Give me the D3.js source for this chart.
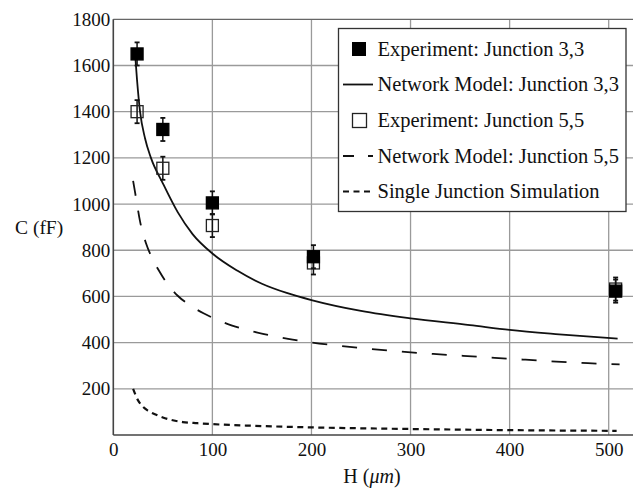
<!DOCTYPE html>
<html><head><meta charset="utf-8"><script src="https://cdn.jsdelivr.net/npm/d3@7"></script></head>
<body style="margin:0">
<svg id="chart" width="633" height="490"></svg>
<script>
// ---- data ----
const xTicks = [0, 100, 200, 300, 400, 500];
const yTicks = [200, 400, 600, 800, 1000, 1200, 1400, 1600, 1800];

const expH = [24, 50, 100, 202, 507];
const exp33 = [1650, 1323, 1005, 772, 623];
const err33 = [50, 50, 50, 50, 50];
const exp55 = [1400, 1155, 907, 745, 632];
const err55 = [50, 50, 50, 50, 50];

const net33H = [22, 24, 27, 32, 38, 50, 65, 80, 100, 125, 150, 175, 200, 250, 300, 360, 400, 450, 509];
const net33C = [1650, 1535, 1400, 1285, 1200, 1090, 965, 870, 786, 712, 655, 615, 584, 537, 505, 476, 455, 436, 417];

const net55H = [20, 23, 27, 33, 39, 46, 55, 65, 78, 91, 105, 120, 136, 151, 166, 181, 198, 229, 259, 291, 323, 353, 385, 416, 447, 479, 511];
const net55C = [1100, 1025, 925, 830, 768, 712, 652, 603, 560, 527, 499, 474, 454, 438, 425, 413, 402, 386, 373, 361, 351, 343, 334, 326, 318, 311, 306];

const singleH = [20, 25, 30, 35, 42, 50, 60, 70, 85, 100, 140, 200, 300, 400, 508];
const singleC = [200, 150, 122, 105, 90, 76, 64, 56, 51, 47, 40, 33, 26, 21, 18];

const legendLabels = [
  "Experiment: Junction 3,3",
  "Network Model: Junction 3,3",
  "Experiment: Junction 5,5",
  "Network Model: Junction 5,5",
  "Single Junction Simulation"
];

// ---- layout ----
const FONT = '"Liberation Serif"';
const svg = d3.select("#chart");
const x = d3.scaleLinear().domain([0, 500]).range([113.3, 608.7]);
const y = d3.scaleLinear().domain([0, 1800]).range([435, 19.3]);
const plotRight = 640;

function txt(sel, size) {
  return sel.attr("font-size", size).attr("font-family", "Liberation Serif")
    .style("font-family", FONT).attr("fill", "#111");
}

// gridlines
const grid = svg.append("g");
grid.selectAll("line.gx").data(xTicks.slice(1)).join("line")
  .attr("x1", d => x(d)).attr("x2", d => x(d))
  .attr("y1", y(1800)).attr("y2", y(0))
  .attr("stroke", "#9a9a9a").attr("stroke-width", 1.3);
grid.selectAll("line.gy").data(yTicks.slice(0, -1)).join("line")
  .attr("x1", x(0)).attr("x2", plotRight)
  .attr("y1", d => y(d)).attr("y2", d => y(d))
  .attr("stroke", "#9a9a9a").attr("stroke-width", 1.3);

// frame: top
svg.append("line").attr("x1", x(0)).attr("x2", plotRight)
  .attr("y1", y(1800)).attr("y2", y(1800))
  .attr("stroke", "#666").attr("stroke-width", 1.3);

// axes (D3 axes, no tick marks)
const xAxis = svg.append("g").attr("transform", `translate(0,${y(0)})`)
  .call(d3.axisBottom(x).tickValues(xTicks).tickFormat(d3.format("d")).tickSize(0).tickPadding(8));
xAxis.attr("font-family", null).attr("font-size", null);
xAxis.select(".domain").remove();
txt(xAxis.selectAll("text"), 19);

const yAxis = svg.append("g").attr("transform", `translate(${x(0)},0)`)
  .call(d3.axisLeft(y).tickValues(yTicks).tickFormat(d3.format("d")).tickSize(0).tickPadding(3));
yAxis.attr("font-family", null).attr("font-size", null);
yAxis.select(".domain").remove();
txt(yAxis.selectAll("text"), 19);

svg.append("line").attr("x1", x(0)).attr("x2", x(0))
  .attr("y1", y(1800)).attr("y2", y(0))
  .attr("stroke", "#444").attr("stroke-width", 1.6);
svg.append("line").attr("x1", x(0)).attr("x2", plotRight)
  .attr("y1", y(0)).attr("y2", y(0))
  .attr("stroke", "#444").attr("stroke-width", 1.6);

// axis titles
txt(svg.append("text").attr("x", 15).attr("y", 234), 19.5).text("C (fF)");
const xt = txt(svg.append("text").attr("x", 372).attr("y", 483).attr("text-anchor", "middle"), 20);
xt.append("tspan").text("H (");
xt.append("tspan").attr("font-style", "italic").text("μm");
xt.append("tspan").text(")");

// curves
const line = d3.line().x(d => x(d[0])).y(d => y(d[1])).curve(d3.curveMonotoneX);
const zip = (a, b) => a.map((v, i) => [v, b[i]]);

svg.append("path").datum(zip(singleH, singleC)).attr("d", line)
  .attr("fill", "none").attr("stroke", "#111").attr("stroke-width", 2.2)
  .attr("stroke-dasharray", "6,4.5");
svg.append("path").datum(zip(net55H, net55C)).attr("d", line)
  .attr("fill", "none").attr("stroke", "#111").attr("stroke-width", 1.8)
  .attr("stroke-dasharray", "15,15");
svg.append("path").datum(zip(net33H, net33C)).attr("d", line)
  .attr("fill", "none").attr("stroke", "#111").attr("stroke-width", 1.8);

// experimental points with error bars
const MS = 12;
function drawPoints(vals, errs, filled) {
  const g = svg.append("g");
  const data = expH.map((h, i) => ({ h, c: vals[i], e: errs[i] }));
  const pts = g.selectAll("g").data(data).join("g");
  pts.append("line")
    .attr("x1", d => x(d.h)).attr("x2", d => x(d.h))
    .attr("y1", d => y(d.c + d.e)).attr("y2", d => y(d.c - d.e))
    .attr("stroke", "#111").attr("stroke-width", 1.5);
  [1, -1].forEach(s => {
    pts.append("line")
      .attr("x1", d => x(d.h) - 2.5).attr("x2", d => x(d.h) + 2.5)
      .attr("y1", d => y(d.c + s * d.e)).attr("y2", d => y(d.c + s * d.e))
      .attr("stroke", "#111").attr("stroke-width", 1.8);
  });
  pts.append("rect")
    .attr("x", d => x(d.h) - MS / 2).attr("y", d => y(d.c) - MS / 2)
    .attr("width", MS).attr("height", MS)
    .attr("fill", filled ? "#000" : "none")
    .attr("stroke", filled ? "#000" : "#222").attr("stroke-width", 1.3);
}
drawPoints(exp55, err55, false);
drawPoints(exp33, err33, true);

// legend
const lg = svg.append("g");
lg.append("rect").attr("x", 338.5).attr("y", 28.5).attr("width", 287.5).attr("height", 183)
  .attr("fill", "#fff").attr("stroke", "#333").attr("stroke-width", 1.3);
const rowY = [49, 84.5, 120.5, 156, 191.5];
lg.append("rect").attr("x", 352).attr("y", rowY[0] - 7).attr("width", 14).attr("height", 14)
  .attr("fill", "#000");
lg.append("rect").attr("x", 352.5).attr("y", rowY[2] - 7).attr("width", 14).attr("height", 14)
  .attr("fill", "none").attr("stroke", "#222").attr("stroke-width", 1.3);
lg.append("line").attr("x1", 343).attr("x2", 373).attr("y1", rowY[1]).attr("y2", rowY[1])
  .attr("stroke", "#111").attr("stroke-width", 1.8);
lg.append("line").attr("x1", 343).attr("x2", 373).attr("y1", rowY[3]).attr("y2", rowY[3])
  .attr("stroke", "#111").attr("stroke-width", 1.8).attr("stroke-dasharray", "11,14");
lg.append("line").attr("x1", 343).attr("x2", 373).attr("y1", rowY[4]).attr("y2", rowY[4])
  .attr("stroke", "#111").attr("stroke-width", 2).attr("stroke-dasharray", "6,4.5");
txt(lg.selectAll("text.lbl").data(legendLabels).join("text")
  .attr("x", 377.5).attr("y", (d, i) => rowY[i] + 6.5), 20.5).text(d => d);
</script>
</body>
</html>
